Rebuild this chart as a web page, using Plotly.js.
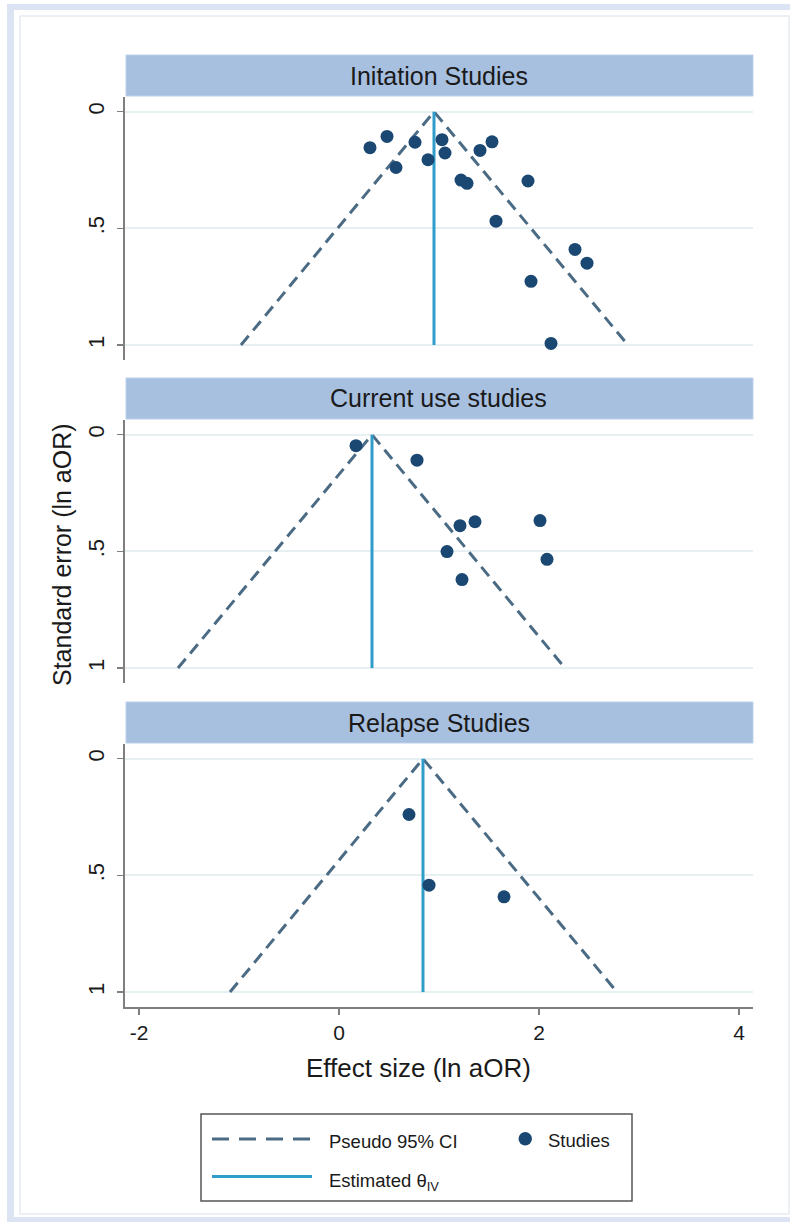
<!DOCTYPE html>
<html>
<head>
<meta charset="utf-8">
<script src="https://cdn.plot.ly/plotly-3.0.1.min.js"></script>
<style>
  html, body { margin: 0; padding: 0; background: #ffffff; }
  #chart { width: 790px; height: 1223px; }
</style>
</head>
<body>
<div id="chart"></div>
<script>
// ---------------- data ----------------
var panelTitles = ["Initation Studies", "Current use studies", "Relapse Studies"];

// Initiation studies: effect size (ln aOR) and standard error
var initEffect = [0.31, 0.48, 0.57, 0.76, 0.89, 1.03, 1.06, 1.22, 1.28, 1.41, 1.53, 1.89, 1.57, 2.36, 2.48, 1.92, 2.12];
var initSE     = [0.154, 0.106, 0.239, 0.131, 0.206, 0.120, 0.177, 0.293, 0.307, 0.166, 0.129, 0.297, 0.469, 0.590, 0.649, 0.727, 0.993];

// Current use studies
var currEffect = [0.17, 0.78, 1.21, 1.36, 2.01, 1.08, 2.08, 1.23];
var currSE     = [0.047, 0.109, 0.390, 0.373, 0.368, 0.501, 0.534, 0.621];

// Relapse studies
var relEffect = [0.70, 0.90, 1.65];
var relSE     = [0.239, 0.542, 0.592];

// Pooled estimate (theta IV) and pseudo 95% CI limits at SE = 1
var thetaIV   = [0.95, 0.33, 0.84];
var ciLowAt1  = [-0.98, -1.61, -1.09];
var ciHighAt1 = [2.89, 2.26, 2.78];

var seTickVals = [0, 0.5, 1];
var seTickText = ["0", ".5", "1"];
var esTickVals = [-2, 0, 2, 4];
var esTickText = ["-2", "0", "2", "4"];

var legendLabels = ["Pseudo 95% CI", "Studies", "Estimated θ<sub>IV</sub>"];
var xTitle = "Effect size (ln aOR)";
var yTitle = "Standard error (ln aOR)";

// ---------------- styling / layout helpers ----------------
var W = 790, H = 1223;
function px(x) { return x / W; }
function py(y) { return 1 - y / H; }

var FONT = "Liberation Sans, Arial, Helvetica, sans-serif";
var dashColor = "#4b6b84";
var thetaColor = "#2f9cca";
var dotColor = "#1b4872";
var gridColor = "#e6eff2";
var axisColor = "#7f7f7f";

var plotLeft = 125, plotRight = 753;
// panel plot areas (top, bottom) and strip headers (top, bottom) in pixels
var panelPx = [[97, 360], [420, 683], [744, 1007]];
var stripPx = [[55, 96], [378, 419], [702, 743]];

var effects = [initEffect, currEffect, relEffect];
var ses = [initSE, currSE, relSE];

var traces = [];
for (var p = 0; p < 3; p++) {
  var xa = p === 0 ? "x" : "x" + (p + 1);
  var ya = p === 0 ? "y" : "y" + (p + 1);
  traces.push({
    type: "scatter", mode: "lines", xaxis: xa, yaxis: ya,
    x: [ciLowAt1[p], thetaIV[p], ciHighAt1[p]], y: [1, 0, 1],
    line: { color: dashColor, width: 3, dash: "12px,7px" },
    showlegend: false, hoverinfo: "skip"
  });
  traces.push({
    type: "scatter", mode: "lines", xaxis: xa, yaxis: ya,
    x: [thetaIV[p], thetaIV[p]], y: [0, 1],
    line: { color: thetaColor, width: 3 },
    showlegend: false, hoverinfo: "skip"
  });
  traces.push({
    type: "scatter", mode: "markers", xaxis: xa, yaxis: ya,
    x: effects[p], y: ses[p],
    marker: { color: dotColor, size: 13, line: { width: 0 } },
    showlegend: false
  });
}

var layout = {
  width: W, height: H,
  margin: { l: 0, r: 0, t: 0, b: 0 },
  paper_bgcolor: "#ffffff",
  plot_bgcolor: "rgba(0,0,0,0)",
  font: { family: FONT, color: "#1a1a1a" },
  showlegend: false,
  shapes: [],
  annotations: []
};

for (var p = 0; p < 3; p++) {
  var xk = p === 0 ? "xaxis" : "xaxis" + (p + 1);
  var yk = p === 0 ? "yaxis" : "yaxis" + (p + 1);
  var isBottom = p === 2;
  layout[xk] = {
    domain: [px(plotLeft), px(plotRight)],
    range: [-2.14, 4.14],
    anchor: p === 0 ? "y" : "y" + (p + 1),
    showgrid: false, zeroline: false,
    showline: isBottom, linecolor: axisColor, linewidth: 2,
    ticks: isBottom ? "outside" : "", ticklen: 6, tickcolor: axisColor, tickwidth: 1.5,
    showticklabels: isBottom,
    tickmode: "array", tickvals: esTickVals, ticktext: esTickText,
    tickfont: { size: 21, family: FONT, color: "#1a1a1a" }
  };
  if (p > 0) layout[xk].matches = "x";
  layout[yk] = {
    domain: [py(panelPx[p][1]), py(panelPx[p][0])],
    range: [1.064, -0.063],
    anchor: p === 0 ? "x" : "x" + (p + 1),
    showgrid: true, gridcolor: gridColor, gridwidth: 2,
    zeroline: false,
    showline: true, linecolor: axisColor, linewidth: 2,
    ticks: "outside", ticklen: 6, tickcolor: axisColor, tickwidth: 1.5,
    tickmode: "array", tickvals: seTickVals, ticktext: seTickText,
    tickangle: -90, ticklabelstandoff: 4,
    tickfont: { size: 22, family: FONT, color: "#1a1a1a" }
  };
  // strip header
  layout.shapes.push({
    type: "rect", xref: "paper", yref: "paper",
    x0: px(plotLeft + 1), x1: px(plotRight), y0: py(stripPx[p][1]), y1: py(stripPx[p][0]),
    fillcolor: "#a8c0e0", line: { color: "#bcd0ea", width: 1 }, layer: "above"
  });
  layout.annotations.push({
    xref: "paper", yref: "paper",
    x: px((plotLeft + plotRight) / 2), y: py((stripPx[p][0] + stripPx[p][1]) / 2),
    text: panelTitles[p], showarrow: false,
    xanchor: "center", yanchor: "middle",
    font: { size: 25, family: FONT, color: "#1a1a1a" }
  });
}

// outer frame
layout.shapes.push({ type: "rect", xref: "paper", yref: "paper", layer: "below",
  x0: px(7), x1: px(790), y0: py(1222), y1: py(4), fillcolor: "#dce4f3", line: { width: 0 } });
layout.shapes.push({ type: "rect", xref: "paper", yref: "paper", layer: "below",
  x0: px(14), x1: px(790), y0: py(1217), y1: py(10), fillcolor: "#ffffff", line: { width: 0 } });
layout.shapes.push({ type: "rect", xref: "paper", yref: "paper", layer: "below",
  x0: px(20), x1: px(789), y0: py(1214), y1: py(16), fillcolor: "rgba(0,0,0,0)",
  line: { color: "#e6ecf1", width: 1.5 } });

// axis titles
layout.annotations.push({
  xref: "paper", yref: "paper", x: px(418), y: py(1068),
  text: xTitle, showarrow: false, xanchor: "center", yanchor: "middle",
  font: { size: 26, family: FONT, color: "#1a1a1a" }
});
layout.annotations.push({
  xref: "paper", yref: "paper", x: px(62), y: py(555),
  text: yTitle, showarrow: false, textangle: -90, xanchor: "center", yanchor: "middle",
  font: { size: 25, family: FONT, color: "#1a1a1a" }
});

// legend box (drawn manually to match the two-column layout)
layout.shapes.push({ type: "rect", xref: "paper", yref: "paper", layer: "above",
  x0: px(201), x1: px(632), y0: py(1201), y1: py(1114),
  fillcolor: "rgba(255,255,255,0)", line: { color: "#555555", width: 1.5 } });
layout.shapes.push({ type: "line", xref: "paper", yref: "paper",
  x0: px(212), x1: px(312), y0: py(1139), y1: py(1139),
  line: { color: dashColor, width: 3, dash: "17px,10px" } });
layout.shapes.push({ type: "line", xref: "paper", yref: "paper",
  x0: px(212), x1: px(312), y0: py(1176.5), y1: py(1176.5),
  line: { color: thetaColor, width: 3 } });
layout.shapes.push({ type: "circle", xref: "paper", yref: "paper",
  x0: px(518.5), x1: px(532), y0: py(1145.5), y1: py(1132),
  fillcolor: dotColor, line: { width: 0 } });
var legendPos = [[327, 1141], [546, 1140], [327, 1182]];
for (var i = 0; i < legendLabels.length; i++) {
  layout.annotations.push({
    xref: "paper", yref: "paper", x: px(legendPos[i][0]), y: py(legendPos[i][1]),
    text: legendLabels[i], showarrow: false, xanchor: "left", yanchor: "middle",
    font: { size: 18.5, family: FONT, color: "#1a1a1a" }
  });
}

Plotly.newPlot("chart", traces, layout, { displayModeBar: false, staticPlot: true });
</script>
</body>
</html>
